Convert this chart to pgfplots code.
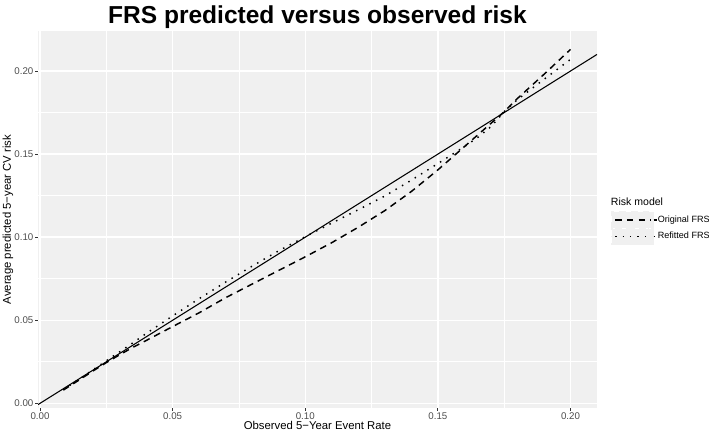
\documentclass[border=0pt]{standalone}
\usepackage{fontspec}
\setmainfont{Liberation Sans}
\usepackage{pgfplots}
\pgfplotsset{compat=1.18}
\definecolor{panelbg}{RGB}{240,240,240}
\definecolor{tickgrey}{RGB}{77,77,77}
\definecolor{tickline}{RGB}{51,51,51}
\definecolor{legendbg}{RGB}{240,240,240}
\begin{document}
\begin{tikzpicture}
\path[use as bounding box] (-28.5pt,-21pt) rectangle (503.25pt,306pt);
\begin{axis}[
  scale only axis,
  width=419.25pt, height=282.75pt,
  at={(0pt,0pt)}, anchor=south west,
  xmin=-0.00075, xmax=0.21,
  ymin=-0.0028, ymax=0.2241,
  xtick={0,0.05,0.1,0.15,0.2},
  ytick={0,0.05,0.1,0.15,0.2},
  minor x tick num=1, minor y tick num=1,
  minor tick length=0pt,
  major tick length=2.1pt,
  tick align=outside,
  xtick pos=bottom, ytick pos=left,
  tick style={color=tickline, line width=0.6pt},
  axis line style={draw=none},
  axis background/.style={fill=panelbg},
  grid=both,
  major grid style={white, line width=1.1pt},
  minor grid style={white, line width=0.55pt},
  /pgf/number format/.cd, fixed, fixed zerofill, precision=2, assume math mode=true,
  /pgfplots/.cd,
  scaled ticks=false,
  ticklabel style={font=\fontsize{7.3}{8}\selectfont, text=tickgrey},
  xticklabel style={inner sep=1pt, yshift=-0.3pt},
  yticklabel style={inner sep=1.2pt},
  xlabel={Observed 5\char"2212 Year Event Rate},
  ylabel={Average predicted 5\char"2212 year CV risk},
  label style={font=\fontsize{8.5}{10}\selectfont},
  xlabel style={at={(rel axis cs:0.5,-0.045)}, anchor=center},
  ylabel style={at={(rel axis cs:-0.0537,0.5)}, anchor=center},
  title={FRS predicted versus observed risk},
  every axis title shift=0pt,
  title style={font=\fontsize{18.4}{20}\selectfont\bfseries, at={(rel axis cs:0.5,1.0186)}, anchor=base},
  legend style={draw=none, fill=none, at={(rel axis cs:1.0245,0.522)}, anchor=north west,
    inner sep=0pt, row sep=-0.8pt, font=\fontsize{6.8}{8}\selectfont,
    nodes={inner sep=0pt}},
  legend cell align=left,
  legend image code/.code={
    \fill[legendbg] (0pt,-6pt) rectangle (31.5pt,6pt);
    \draw[#1] (2.5pt,0pt) -- (29pt,0pt);
    \path (31.5pt,0pt) -- (34pt,0pt);
  },
  clip mode=individual,
]
\addplot[black, line width=0.8pt, forget plot] coordinates {(-0.00075,-0.00075) (0.21,0.21)};
\addplot[black, line width=1.1pt, dash pattern=on 5pt off 3.8pt] coordinates {
(0.0088,0.0080) (0.015,0.0143) (0.02,0.0195) (0.025,0.0245) (0.03,0.0292)
(0.035,0.0337) (0.04,0.0378) (0.045,0.0420) (0.05,0.0462) (0.06,0.0545)
(0.07,0.0636) (0.08,0.0718) (0.09,0.0800) (0.10,0.0882) (0.11,0.0967)
(0.12,0.1060) (0.13,0.1160) (0.14,0.1275) (0.15,0.1405) (0.16,0.1545)
(0.17,0.1685) (0.175,0.1755) (0.18,0.1835) (0.19,0.1980) (0.20,0.2130)};
\addlegendentry{Original FRS}
\addplot[black, line width=1.1pt, dash pattern=on 1.1pt off 4.5pt] coordinates {
(0.0088,0.0082) (0.015,0.0148) (0.02,0.0202) (0.025,0.0256) (0.03,0.0310)
(0.035,0.0364) (0.04,0.0420) (0.05,0.0526) (0.06,0.0630) (0.07,0.0730)
(0.08,0.0826) (0.09,0.0918) (0.10,0.1003) (0.11,0.1085) (0.12,0.1165)
(0.13,0.1248) (0.14,0.1343) (0.15,0.1443) (0.16,0.1545) (0.165,0.1600)
(0.17,0.1665) (0.175,0.1755) (0.18,0.1828) (0.19,0.1950) (0.20,0.2070)};
\addlegendentry{Refitted FRS}
\node[anchor=base west, font=\fontsize{7.9}{9}\selectfont, inner sep=0pt] at (rel axis cs:1.0245,0.5366) {Risk model};
\end{axis}
\end{tikzpicture}
\end{document}
